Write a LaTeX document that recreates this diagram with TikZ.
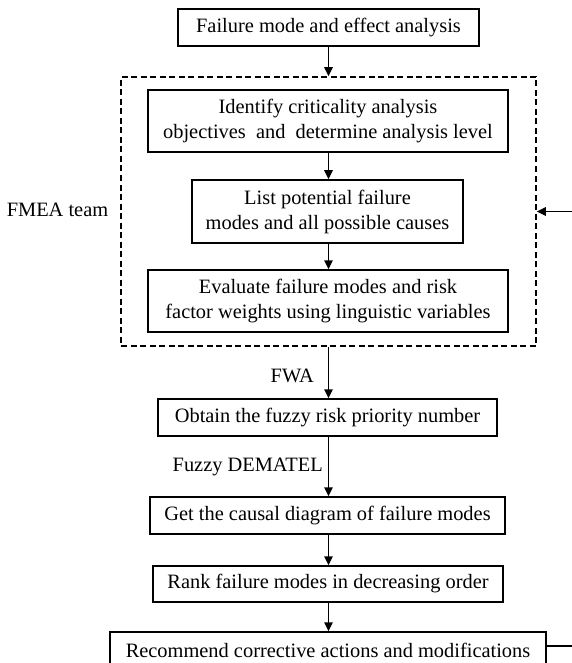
\documentclass[tikz,border=0pt]{standalone}
\usepackage{fontspec}
\setmainfont{Liberation Serif}
\usetikzlibrary{arrows.meta,calc}

\tikzset{
  stepbox/.style={draw, line width=1.5pt, inner sep=0pt, align=center,
                  font=\fontsize{20.4}{25}\selectfont},
  groupbox/.style={draw, line width=1.5pt, dash pattern=on 6pt off 3.5pt, inner sep=0pt},
  flow/.style={line width=1.5pt, -{Triangle[length=9pt,width=8.5pt]}},
  steplabel/.style={font=\fontsize{20.4}{25}\selectfont, inner sep=0pt}
}

\begin{document}
\begin{tikzpicture}[x=1pt, y=-1pt]
  \useasboundingbox (0,0) rectangle (571,663);

  % main chain of steps
  \node[stepbox, minimum width=301pt, minimum height=37pt] (fmea) at (328.5,27.5)
    {Failure mode and effect analysis};

  \node[groupbox, minimum width=415pt, minimum height=269pt] (team) at (328.5,211.5) {};

  \node[stepbox, minimum width=360pt, minimum height=62pt] (ident) at (328,121)
    {Identify criticality analysis\\objectives\ \ and\ \ determine analysis level};
  \node[stepbox, minimum width=271pt, minimum height=63pt] (list) at (327.5,211.5)
    {List potential failure\\modes and all possible causes};
  \node[stepbox, minimum width=360pt, minimum height=62pt] (eval) at (328,301)
    {Evaluate failure modes and risk\\factor weights using linguistic variables};

  \node[stepbox, minimum width=339pt, minimum height=37pt] (frpn) at (327.5,417.5)
    {Obtain the fuzzy risk priority number};
  \node[stepbox, minimum width=355pt, minimum height=37pt] (causal) at (327.5,515.5)
    {Get the causal diagram of failure modes};
  \node[stepbox, minimum width=350pt, minimum height=36pt] (rank) at (328,584)
    {Rank failure modes in decreasing order};
  \node[stepbox, minimum width=436pt, minimum height=37pt] (recom) at (328,650.5)
    {Recommend corrective actions and modifications};

  % side labels
  \node[steplabel] (teamlbl) at (57.5,210) {FMEA team};
  \node[steplabel, anchor=east] (fwa) at (314,376) {FWA};
  \node[steplabel, anchor=east] (dem) at (323,467) {Fuzzy DEMATEL};

  % connectors
  \draw[flow] (fmea.south -| team.north) -- (team.north);
  \draw[flow] (ident.south -| team.north) -- (list.north -| team.north);
  \draw[flow] (list.south -| team.north) -- (eval.north -| team.north);
  \draw[flow] (team.south) -- (frpn.north -| team.south);
  \draw[flow] (frpn.south -| team.south) -- (causal.north -| team.south);
  \draw[flow] (causal.south -| team.south) -- (rank.north -| team.south);
  \draw[flow] (rank.south -| team.south) -- (recom.north -| team.south);

  % feedback loop back into the team box
  \coordinate (fbout) at ($(recom.east)+(0,-4.5)$);
  \coordinate (fbcorner) at (576,646);
  \draw[flow] (fbout) -- (fbcorner) |- (team.east);
\end{tikzpicture}
\end{document}
